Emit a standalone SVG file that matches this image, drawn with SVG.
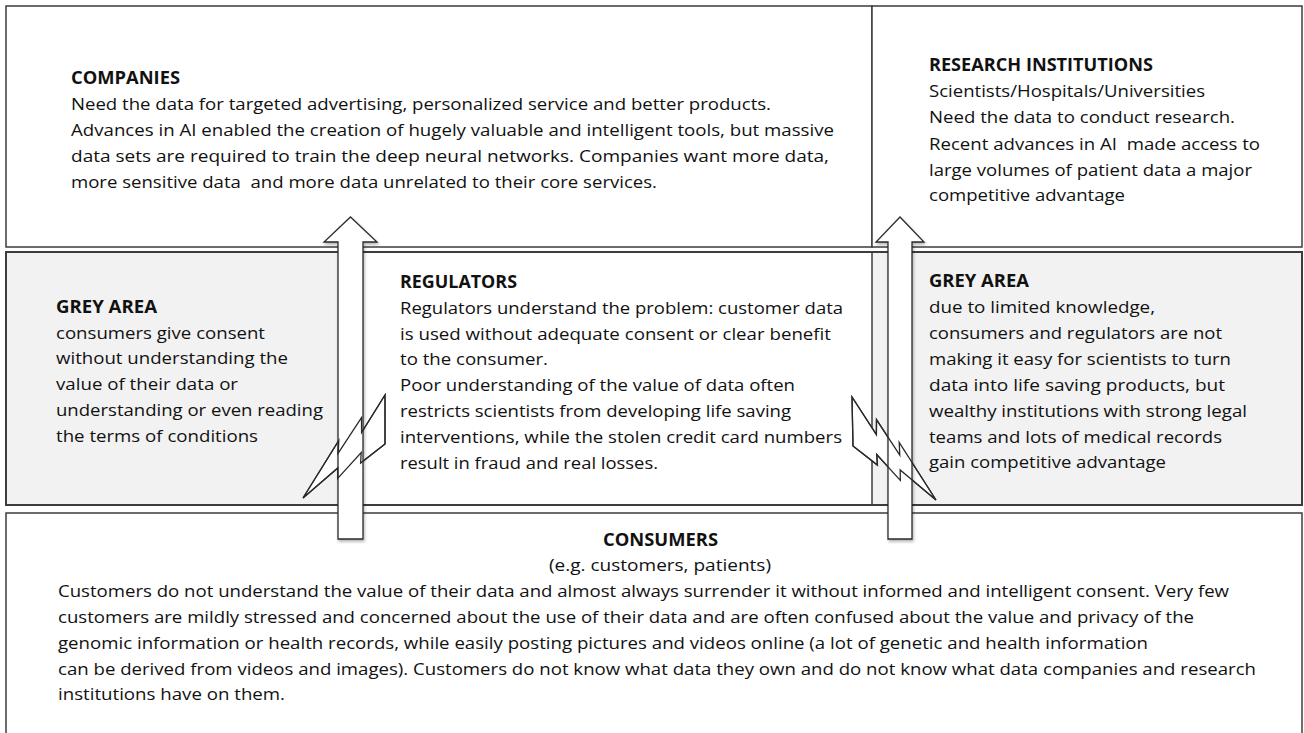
<svg xmlns="http://www.w3.org/2000/svg" width="1304" height="733" viewBox="0 0 1304 733">
<defs>
<style>
.box{stroke:#3c3c3c;stroke-width:1.5}
.t{font-family:"Open Sans","Liberation Sans",sans-serif;font-size:17px;fill:#111}
.b{font-weight:bold}
.shape{fill:#fff;stroke:#2a2a2a;stroke-width:1.3;stroke-linejoin:miter}
.outline{fill:none;stroke:#2a2a2a;stroke-width:1.3}
</style>
<filter id="sh" x="-30%" y="-5%" width="160%" height="110%">
<feDropShadow dx="1" dy="2" stdDeviation="1.5" flood-color="#000" flood-opacity="0.3"/>
</filter>
</defs>
<rect width="1304" height="733" fill="#fff"/>

<g id="companies">
<rect class="box" x="6" y="6" width="866" height="241" fill="#fff"/>
<text class="t b" x="71" y="84" textLength="109" lengthAdjust="spacingAndGlyphs">COMPANIES</text>
<text class="t" x="71" y="110" textLength="700" lengthAdjust="spacingAndGlyphs">Need the data for targeted advertising, personalized service and better products.</text>
<text class="t" x="71" y="136" textLength="763" lengthAdjust="spacingAndGlyphs">Advances in AI enabled the creation of hugely valuable and intelligent tools, but massive</text>
<text class="t" x="71" y="162" textLength="758" lengthAdjust="spacingAndGlyphs">data sets are required to train the deep neural networks. Companies want more data,</text>
<text class="t" x="71" y="188" textLength="586" lengthAdjust="spacingAndGlyphs" xml:space="preserve">more sensitive data  and more data unrelated to their core services.</text>
</g>

<g id="research">
<rect class="box" x="872" y="6" width="430" height="241" fill="#fff"/>
<text class="t b" x="929" y="71" textLength="224" lengthAdjust="spacingAndGlyphs">RESEARCH INSTITUTIONS</text>
<text class="t" x="929" y="97" textLength="276" lengthAdjust="spacingAndGlyphs">Scientists/Hospitals/Universities</text>
<text class="t" x="929" y="123" textLength="306" lengthAdjust="spacingAndGlyphs">Need the data to conduct research.</text>
<text class="t" x="929" y="150" textLength="331" lengthAdjust="spacingAndGlyphs" xml:space="preserve">Recent advances in AI  made access to</text>
<text class="t" x="929" y="176" textLength="323" lengthAdjust="spacingAndGlyphs">large volumes of patient data a major</text>
<text class="t" x="929" y="201" textLength="196" lengthAdjust="spacingAndGlyphs">competitive advantage</text>
</g>

<g id="band">
<rect x="6" y="252" width="1296" height="253" fill="#f2f2f2" stroke="#3c3c3c" stroke-width="2"/>
<rect x="350" y="253" width="522" height="251" fill="#fff"/>
<line x1="872" y1="252" x2="872" y2="505" stroke="#3c3c3c" stroke-width="1.5"/>
</g>

<g id="grey-left">
<text class="t b" x="56" y="313" textLength="101" lengthAdjust="spacingAndGlyphs">GREY AREA</text>
<text class="t" x="56" y="339" textLength="209" lengthAdjust="spacingAndGlyphs">consumers give consent</text>
<text class="t" x="56" y="364" textLength="232" lengthAdjust="spacingAndGlyphs">without understanding the</text>
<text class="t" x="56" y="390" textLength="182" lengthAdjust="spacingAndGlyphs">value of their data or</text>
<text class="t" x="56" y="416" textLength="267" lengthAdjust="spacingAndGlyphs">understanding or even reading</text>
<text class="t" x="56" y="442" textLength="202" lengthAdjust="spacingAndGlyphs">the terms of conditions</text>
</g>

<g id="regulators">
<text class="t b" x="400" y="288" textLength="117" lengthAdjust="spacingAndGlyphs">REGULATORS</text>
<text class="t" x="400" y="314" textLength="443" lengthAdjust="spacingAndGlyphs">Regulators understand the problem: customer data</text>
<text class="t" x="400" y="340" textLength="431" lengthAdjust="spacingAndGlyphs">is used without adequate consent or clear benefit</text>
<text class="t" x="400" y="365" textLength="148" lengthAdjust="spacingAndGlyphs">to the consumer.</text>
<text class="t" x="400" y="391" textLength="395" lengthAdjust="spacingAndGlyphs">Poor understanding of the value of data often</text>
<text class="t" x="400" y="417" textLength="391" lengthAdjust="spacingAndGlyphs">restricts scientists from developing life saving</text>
<text class="t" x="400" y="443" textLength="442" lengthAdjust="spacingAndGlyphs">interventions, while the stolen credit card numbers</text>
<text class="t" x="400" y="469" textLength="258" lengthAdjust="spacingAndGlyphs">result in fraud and real losses.</text>
</g>

<g id="grey-right">
<text class="t b" x="929" y="287" textLength="100" lengthAdjust="spacingAndGlyphs">GREY AREA</text>
<text class="t" x="929" y="313" textLength="226" lengthAdjust="spacingAndGlyphs">due to limited knowledge,</text>
<text class="t" x="929" y="339" textLength="293" lengthAdjust="spacingAndGlyphs">consumers and regulators are not</text>
<text class="t" x="929" y="365" textLength="302" lengthAdjust="spacingAndGlyphs">making it easy for scientists to turn</text>
<text class="t" x="929" y="391" textLength="296" lengthAdjust="spacingAndGlyphs">data into life saving products, but</text>
<text class="t" x="929" y="417" textLength="318" lengthAdjust="spacingAndGlyphs">wealthy institutions with strong legal</text>
<text class="t" x="929" y="443" textLength="293" lengthAdjust="spacingAndGlyphs">teams and lots of medical records</text>
<text class="t" x="929" y="468" textLength="237" lengthAdjust="spacingAndGlyphs">gain competitive advantage</text>
</g>

<g id="consumers">
<rect class="box" x="6" y="513" width="1296" height="240" fill="#fff"/>
<text class="t b" x="603" y="546" textLength="115" lengthAdjust="spacingAndGlyphs">CONSUMERS</text>
<text class="t" x="549" y="571" textLength="222" lengthAdjust="spacingAndGlyphs">(e.g. customers, patients)</text>
<text class="t" x="58" y="597" textLength="1171" lengthAdjust="spacingAndGlyphs">Customers do not understand the value of their data and almost always surrender it without informed and intelligent consent. Very few</text>
<text class="t" x="58" y="623" textLength="1136" lengthAdjust="spacingAndGlyphs">customers are mildly stressed and concerned about the use of their data and are often confused about the value and privacy of the</text>
<text class="t" x="58" y="649" textLength="1090" lengthAdjust="spacingAndGlyphs">genomic information or health records, while easily posting pictures and videos online (a lot of genetic and health information</text>
<text class="t" x="58" y="675" textLength="1198" lengthAdjust="spacingAndGlyphs">can be derived from videos and images). Customers do not know what data they own and do not know what data companies and research</text>
<text class="t" x="58" y="700" textLength="227" lengthAdjust="spacingAndGlyphs">institutions have on them.</text>
</g>

<g id="connectors">
<polygon class="shape" points="385,444 360.6,463 361.2,452.6 337.7,478.4 337.8,467.9 303,498 338.8,440.5 338.2,453.2 361.5,417.6 361.6,432.6 385,395"/>
<polygon class="shape" points="853,446 877.4,465 876.8,454.6 900.3,480.4 900.2,469.9 936,500 899.2,442.5 899.8,455.2 876.5,419.6 876.4,434.6 852,397"/>
<polygon class="shape" filter="url(#sh)" points="350.5,217 377,242 363,242 363,539 338,539 338,242 324,242"/>
<polygon class="shape" filter="url(#sh)" points="900,217 924,242 912,242 912,539 888,539 888,242 876,242"/>
<polygon class="outline" points="385,444 360.6,463 361.2,452.6 337.7,478.4 337.8,467.9 303,498 338.8,440.5 338.2,453.2 361.5,417.6 361.6,432.6 385,395"/>
<polygon class="outline" points="853,446 877.4,465 876.8,454.6 900.3,480.4 900.2,469.9 936,500 899.2,442.5 899.8,455.2 876.5,419.6 876.4,434.6 852,397"/>
</g>
</svg>
